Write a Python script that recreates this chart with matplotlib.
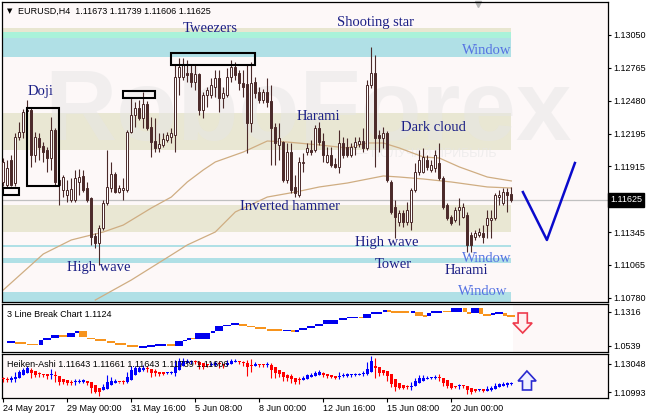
import numpy as np
import matplotlib
matplotlib.use("Agg")
import matplotlib.pyplot as plt
import matplotlib.transforms as mtransforms
from matplotlib.patches import Rectangle, Polygon

plt.rcParams['font.family'] = ['Liberation Sans', 'DejaVu Sans']

# EURUSD H4 candles
opens = [
    1.11780, 1.11754, 1.11970, 1.11771, 1.12169, 1.12212, 1.12393, 1.12402, 1.12013, 1.12160,
    1.12091, 1.12056, 1.11987, 1.12229, 1.11797, 1.11711, 1.11667, 1.11625, 1.11625, 1.11780,
    1.11832, 1.11728, 1.11642, 1.11313, 1.11253, 1.11383, 1.11598, 1.11728, 1.11849, 1.11693,
    1.11711, 1.11711, 1.12212, 1.12359, 1.12419, 1.12333, 1.12454, 1.12255, 1.12134, 1.12074,
    1.12100, 1.12143, 1.12169, 1.12186, 1.12687, 1.12687, 1.12722, 1.12722, 1.12644, 1.12713,
    1.12402, 1.12532, 1.12532, 1.12601, 1.12679, 1.12506, 1.12532, 1.12687, 1.12774, 1.12722,
    1.12635, 1.12627, 1.12290, 1.12644, 1.12558, 1.12488, 1.12558, 1.12480, 1.12255, 1.12100,
    1.12125, 1.11797, 1.12039, 1.11737, 1.11667, 1.11944, 1.12039, 1.12056, 1.12056, 1.12246,
    1.12134, 1.11953, 1.12013, 1.11935, 1.11910, 1.12117, 1.12082, 1.12013, 1.12082, 1.12108,
    1.12134, 1.12074, 1.12618, 1.12722, 1.12186, 1.12160, 1.12203, 1.11780, 1.11564, 1.11434,
    1.11512, 1.11434, 1.11434, 1.11711, 1.11867, 1.11867, 1.11970, 1.11884, 1.11901, 1.11944,
    1.11815, 1.11581, 1.11477, 1.11452, 1.11538, 1.11477, 1.11495, 1.11322, 1.11305, 1.11322,
    1.11339, 1.11408, 1.11452, 1.11469, 1.11650, 1.11598, 1.11693, 1.11673]
highs = [
    1.11987, 1.11970, 1.12013, 1.12203, 1.12298, 1.12411, 1.12488, 1.12419, 1.12212, 1.12203,
    1.12125, 1.12082, 1.12341, 1.12246, 1.11815, 1.11840, 1.11797, 1.11815, 1.11884, 1.11892,
    1.11884, 1.11780, 1.11650, 1.11339, 1.11408, 1.11625, 1.12056, 1.11953, 1.11867, 1.11754,
    1.11815, 1.12229, 1.12514, 1.12471, 1.12488, 1.12558, 1.12480, 1.12341, 1.12333, 1.12203,
    1.12203, 1.12212, 1.12246, 1.12791, 1.12851, 1.12851, 1.12834, 1.12791, 1.12791, 1.12722,
    1.12558, 1.12601, 1.12679, 1.12748, 1.12748, 1.12601, 1.12765, 1.12834, 1.12817, 1.12748,
    1.12748, 1.12791, 1.12817, 1.12687, 1.12601, 1.12583, 1.12679, 1.12618, 1.12290, 1.12290,
    1.12134, 1.12117, 1.12117, 1.11840, 1.11996, 1.12030, 1.12117, 1.12143, 1.12272, 1.12298,
    1.12203, 1.12082, 1.12082, 1.11987, 1.12229, 1.12169, 1.12160, 1.12117, 1.12169, 1.12169,
    1.12246, 1.12661, 1.12946, 1.12877, 1.12229, 1.12255, 1.12220, 1.11797, 1.11625, 1.11538,
    1.11538, 1.11607, 1.11728, 1.11944, 1.12056, 1.12074, 1.12013, 1.11970, 1.12056, 1.12117,
    1.11832, 1.11598, 1.11495, 1.11564, 1.11642, 1.11598, 1.11521, 1.11348, 1.11365, 1.11383,
    1.11408, 1.11538, 1.11538, 1.11685, 1.11711, 1.11728, 1.11728, 1.11739]
lows = [
    1.11745, 1.11737, 1.11745, 1.11745, 1.12143, 1.12160, 1.12376, 1.11910, 1.11953, 1.11970,
    1.11953, 1.11867, 1.11884, 1.11754, 1.11581, 1.11650, 1.11607, 1.11607, 1.11607, 1.11667,
    1.11693, 1.11607, 1.11236, 1.11210, 1.11063, 1.11365, 1.11581, 1.11693, 1.11685, 1.11685,
    1.11625, 1.11693, 1.12203, 1.12255, 1.12316, 1.12246, 1.12229, 1.11996, 1.12039, 1.12039,
    1.12082, 1.12125, 1.12117, 1.12039, 1.12532, 1.12661, 1.12644, 1.12601, 1.12575, 1.12359,
    1.12333, 1.12428, 1.12506, 1.12514, 1.12385, 1.12419, 1.12514, 1.12644, 1.12661, 1.12575,
    1.12514, 1.12030, 1.12212, 1.12506, 1.12462, 1.12462, 1.12428, 1.11927, 1.11927, 1.11970,
    1.11780, 1.11771, 1.11685, 1.11650, 1.11650, 1.11867, 1.12013, 1.12013, 1.12039, 1.12100,
    1.11953, 1.11944, 1.11910, 1.11901, 1.11858, 1.11987, 1.11996, 1.11996, 1.12013, 1.12082,
    1.12039, 1.12056, 1.12592, 1.11910, 1.12039, 1.12074, 1.11780, 1.11503, 1.11296, 1.11400,
    1.11391, 1.11408, 1.11365, 1.11693, 1.11840, 1.11858, 1.11884, 1.11867, 1.11867, 1.11797,
    1.11547, 1.11452, 1.11408, 1.11434, 1.11408, 1.11469, 1.11175, 1.11175, 1.11279, 1.11305,
    1.11253, 1.11296, 1.11296, 1.11452, 1.11581, 1.11581, 1.11521, 1.11606]
closes = [
    1.11953, 1.11901, 1.11754, 1.12169, 1.12212, 1.12385, 1.12402, 1.12013, 1.12169, 1.12082,
    1.12039, 1.11987, 1.12229, 1.11780, 1.11754, 1.11823, 1.11711, 1.11719, 1.11815, 1.11823,
    1.11711, 1.11625, 1.11305, 1.11253, 1.11383, 1.11598, 1.11737, 1.11849, 1.11693, 1.11728,
    1.11728, 1.12212, 1.12359, 1.12419, 1.12333, 1.12454, 1.12246, 1.12125, 1.12074, 1.12108,
    1.12151, 1.12186, 1.12203, 1.12687, 1.12774, 1.12791, 1.12704, 1.12644, 1.12713, 1.12402,
    1.12532, 1.12575, 1.12618, 1.12679, 1.12506, 1.12549, 1.12687, 1.12774, 1.12704, 1.12635,
    1.12601, 1.12290, 1.12635, 1.12549, 1.12488, 1.12558, 1.12471, 1.12246, 1.12117, 1.12160,
    1.11797, 1.12039, 1.11711, 1.11685, 1.11953, 1.11953, 1.12074, 1.12039, 1.12246, 1.12125,
    1.12013, 1.12013, 1.11927, 1.11910, 1.12117, 1.12013, 1.12013, 1.12082, 1.12125, 1.12134,
    1.12074, 1.12618, 1.12722, 1.12160, 1.12160, 1.12203, 1.11797, 1.11521, 1.11477, 1.11512,
    1.11434, 1.11538, 1.11711, 1.11867, 1.11970, 1.11996, 1.11910, 1.11927, 1.12013, 1.11815,
    1.11564, 1.11469, 1.11426, 1.11538, 1.11564, 1.11564, 1.11236, 1.11236, 1.11339, 1.11348,
    1.11305, 1.11469, 1.11469, 1.11667, 1.11667, 1.11693, 1.11667, 1.11625]

# moving averages (bar index, value)
ma_fast_idx = [0, 10, 17, 25, 30, 37, 42, 46, 50, 53, 60, 66, 71, 79, 86, 91, 95, 99, 105, 109, 114, 121, 127]
ma_fast = [1.10847, 1.11158, 1.11279, 1.11348, 1.11408, 1.11555, 1.11650, 1.11780, 1.11884, 1.11953,
           1.12039, 1.12134, 1.12125, 1.12100, 1.12074, 1.12117, 1.12117, 1.12074, 1.11996, 1.11987,
           1.11910, 1.11823, 1.11789]
ma_slow_idx = [23, 32, 42, 46, 53, 58, 66, 73, 79, 86, 95, 99, 105, 112, 121, 127]
ma_slow = [1.10760, 1.10933, 1.11149, 1.11236, 1.11348, 1.11521, 1.11650, 1.11693, 1.11737, 1.11771,
           1.11832, 1.11823, 1.11806, 1.11780, 1.11737, 1.11728]

# support / resistance zones (low, high, colour)
zones = [(1.13076, 1.13110, '#e8e6d0'), (1.13024, 1.13076, '#a9f2d9'), (1.12860, 1.13024, '#b0e0e6'),
         (1.12056, 1.12376, '#e9e7d3'), (1.11348, 1.11581, '#e9e7d3'), (1.11219, 1.11236, '#b0e0e6'),
         (1.11083, 1.11123, '#b0e0e6'), (1.10700, 1.10830, '#b0e0e6')]

# pattern boxes: first bar, last bar, low, high
boxes = [(-0.1, 3.9, 1.11667, 1.11728), (5.9, 13.9, 1.11745, 1.12419),
         (29.9, 37.9, 1.12506, 1.12566), (41.9, 62.9, 1.12791, 1.12894)]

labels = [("Doji", 6.2, 1.12558), ("Tweezers", 44.9, 1.13102), ("Shooting star", 83.4, 1.13154),
          ("Harami", 73.4, 1.12350), ("Dark cloud", 99.4, 1.12255), ("Inverted hammer", 59.2, 1.11564),
          ("High wave", 15.9, 1.11045), ("High wave", 87.9, 1.11253), ("Tower", 92.9, 1.11071),
          ("Harami", 110.4, 1.11011)]
windows = [(114.7, 1.12912), (114.7, 1.11123), (113.7, 1.10838)]

forecast_idx = [129.9, 135.9, 142.9]
forecast = [1.11693, 1.11279, 1.11944]

price_ticks = [1.13050, 1.12765, 1.12480, 1.12195, 1.11915, 1.11345, 1.11065, 1.10780]
last_price = 1.11625

# 3 line break bricks (start bar, close level)
lb_start = [1, 3, 6, 9, 10, 12, 14, 16, 18, 19, 21, 23, 26, 28, 31, 34, 36, 38, 41, 43, 45, 46, 47, 48,
            52, 53, 55, 57, 59, 61, 63, 66, 70, 72, 73, 74, 76, 78, 80, 84, 86, 89, 90, 92, 95, 96, 97,
            102, 103, 105, 106, 107, 110, 112, 115, 116, 117, 119, 120, 122, 123, 125, 126]
lb_close = [1.0701, 1.0668, 1.0641, 1.0738, 1.0766, 1.0808, 1.0782, 1.0847, 1.0884, 1.0775,
            1.0754, 1.0722, 1.0685, 1.0646, 1.0614, 1.0620, 1.0630, 1.0668, 1.0630, 1.0711,
            1.0738, 1.0766, 1.0754, 1.0847, 1.0884, 1.0953, 1.0981, 1.0992, 1.0965, 1.0937,
            1.0911, 1.0884, 1.0889, 1.0863, 1.0900, 1.0927, 1.0953, 1.0992, 1.1062, 1.1089,
            1.1115, 1.1099, 1.1154, 1.1196, 1.1224, 1.1208, 1.1170, 1.1187, 1.1131, 1.1127,
            1.1170, 1.1208, 1.1196, 1.1251, 1.1187, 1.1175, 1.1251, 1.1154, 1.1143, 1.1154,
            1.1170, 1.1131, 1.1127]

time_ticks = [0, 16, 32, 48, 64, 80, 96, 112]
time_labels = ["24 May 2017", "29 May 00:00", "31 May 16:00", "5 Jun 08:00",
               "8 Jun 00:00", "12 Jun 16:00", "15 Jun 08:00", "20 Jun 00:00"]

CANDLE = '#4b2a2a'
BG = '#fdf8f8'
NAVY = '#1b1f86'
FS = 6.5

W, H = 650, 419


def px_box(x0, y0, x1, y1):
    return [x0 / W, 1 - y1 / H, (x1 - x0) / W, (y1 - y0) / H]


fig = plt.figure(figsize=(6.5, 4.19), dpi=100)
fig.patch.set_facecolor('white')
ax = fig.add_axes(px_box(2, 2.3, 607.7, 302.3))
ax2 = fig.add_axes(px_box(2, 304.3, 607.7, 351.7))
ax3 = fig.add_axes(px_box(2, 354.3, 607.7, 397.7))

for a in (ax, ax2, ax3):
    a.set_facecolor(BG)
    a.set_xlim(-0.325, 151.1)
    a.yaxis.tick_right()
    a.tick_params(axis='y', length=2.5, width=0.8, pad=1.5, labelsize=FS, colors='black')
    for s in a.spines.values():
        s.set_linewidth(0.9)
        s.set_color('black')
ax.set_xticks([])
ax2.set_xticks([])

# ---- main price panel
ax.set_ylim(1.107405, 1.133325)
zone_end = 126.9
for lo, hi, col in zones:
    ax.add_patch(Rectangle((-0.325, lo), zone_end + 0.325, hi - lo, facecolor=col, lw=0, zorder=0.5))

ax.text(0.505, 0.541, 'RoboForex', transform=ax.transAxes, fontsize=72, fontweight='bold',
        color=(0.9, 0.9, 0.9), alpha=0.5, ha='center', va='baseline', zorder=0.8)
ax.text(0.583, 0.484, '— ПОЛУЧАЙ ПРИБЫЛЬ', transform=ax.transAxes, fontsize=9,
        color=(0.9, 0.9, 0.9), alpha=0.6, ha='left', va='baseline', zorder=0.8)

ax.axhline(last_price, color='#c0c0c0', lw=0.9, zorder=1)

ax.plot(ma_fast_idx, ma_fast, color='#cfad82', lw=0.9, zorder=2.5)
ax.plot(ma_slow_idx, ma_slow, color='#cfad82', lw=0.9, zorder=2.5)

o = np.array(opens)
h = np.array(highs)
l = np.array(lows)
c = np.array(closes)
idx = np.arange(len(o))
up = c >= o
body_lo = np.minimum(o, c)
body_h = np.maximum(np.abs(c - o), 0.00009)
ax.vlines(idx, l, h, color=CANDLE, lw=0.8, zorder=3)
ax.bar(idx[up], body_h[up], bottom=body_lo[up], width=0.55, facecolor='white',
       edgecolor=CANDLE, linewidth=0.7, zorder=4)
ax.bar(idx[~up], body_h[~up], bottom=body_lo[~up], width=0.55, facecolor=CANDLE,
       edgecolor=CANDLE, linewidth=0.7, zorder=4)

for x0, x1, lo, hi in boxes:
    ax.add_patch(Rectangle((x0, lo), x1 - x0, hi - lo, fill=False, edgecolor='black', lw=1.5, zorder=5))

serif = ['Liberation Serif', 'DejaVu Serif']
for txt, x, y in labels:
    ax.text(x, y, txt, family=serif, fontsize=10.5, color=NAVY, ha='left', va='center', zorder=6)
for x, y in windows:
    ax.text(x, y, 'Window', family=serif, fontsize=10.5, color='#5572e2', ha='left', va='center', zorder=6)

ax.plot(forecast_idx, forecast, color='#0a0acc', lw=1.8, zorder=6)

ax.set_yticks(price_ticks)
ax.set_yticklabels([f"{v:.5f}" for v in price_ticks])
trans = mtransforms.blended_transform_factory(ax.transAxes, ax.transData)
ax.text(1.004, last_price, f"{last_price:.5f}", transform=trans, color='white', fontsize=FS,
        ha='left', va='center', zorder=7, clip_on=False,
        bbox=dict(boxstyle='square,pad=0.25', fc='black', ec='black'))
ax.plot([0.786], [0.994], transform=ax.transAxes, marker='v', ms=5, color='#b4b4b4', clip_on=False)

fig.text(7 / W, 1 - 11 / H, '▼', fontsize=5, family=['DejaVu Sans'], ha='left', va='center')
fig.text(18 / W, 1 - 11 / H, 'EURUSD,H4  1.11673 1.11739 1.11606 1.11625', fontsize=FS,
         ha='left', va='center')

# ---- 3 line break panel
ax2.set_ylim(1.0539, 1.1316)
ax2.add_patch(Rectangle((-0.325, 1.0539), 127.7, 1.1316 - 1.0539, facecolor='white', lw=0, zorder=0.5))
ends = lb_start[1:] + [128]
prev = lb_close[0] - 0.001
for s, e, v in zip(lb_start, ends, lb_close):
    col = '#0000ee' if v >= prev else '#f7941d'
    lo, hi = min(prev, v), max(prev, v)
    if hi - lo < 0.0025:
        mid = v
        lo, hi = mid - 0.00125, mid + 0.00125
    ax2.add_patch(Rectangle((s, lo), (e - s) * 0.9, hi - lo, facecolor=col, lw=0, zorder=3))
    prev = v
ax2.set_yticks([1.11947, 1.06374])
ax2.set_yticklabels(['1.1316', '1.0539'])
ax2.text(0.008, 0.795, '3 Line Break Chart 1.1124', transform=ax2.transAxes, fontsize=FS,
         ha='left', va='center')
ax2.add_patch(Polygon([(128.7, 1.11734), (131.0, 1.11734), (131.0, 1.10095), (132.2, 1.10095),
                       (129.85, 1.08456), (127.4, 1.10095), (128.7, 1.10095)], closed=True,
                      facecolor='#fff0f0', edgecolor='#ee3a4c', lw=1.2, zorder=5, clip_on=False))

# ---- Heiken-Ashi panel
ha_close = (o + h + l + c) / 4
ha_open = np.empty_like(ha_close)
ha_open[0] = (o[0] + c[0]) / 2
for i in range(1, len(o)):
    ha_open[i] = (ha_open[i - 1] + ha_close[i - 1]) / 2
ha_high = np.maximum(h, np.maximum(ha_open, ha_close))
ha_low = np.minimum(l, np.minimum(ha_open, ha_close))
ha_up = ha_close >= ha_open
ha_cols = np.where(ha_up, '#0000ff', '#ff0000')
ax3.set_ylim(1.10993, 1.13048)
ax3.vlines(idx, ha_low, ha_high, colors=ha_cols, lw=0.8, zorder=3)
hb_lo = np.minimum(ha_open, ha_close)
hb_h = np.maximum(np.abs(ha_close - ha_open), 0.0006)
ax3.bar(idx, hb_h, bottom=hb_lo, width=0.75, color=ha_cols, lw=0, zorder=4)
ax3.set_yticks([1.12603, 1.11249])
ax3.set_yticklabels(['1.13048', '1.10993'])
ax3.text(0.008, 0.776, 'Heiken-Ashi 1.11643 1.11661 1.11643 1.11739 1.11606', transform=ax3.transAxes,
         fontsize=FS, ha='left', va='center', zorder=6)
ax3.add_patch(Polygon([(130.9, 1.12257), (133.2, 1.11784), (132.05, 1.11784), (132.05, 1.11358),
                       (129.8, 1.11358), (129.8, 1.11784), (128.7, 1.11784)], closed=True,
                      facecolor='#f0f0ff', edgecolor='#2a2ad0', lw=1.2, zorder=5, clip_on=False))

ax3.set_xticks(time_ticks)
ax3.set_xticklabels(time_labels, ha='left')
ax3.tick_params(axis='x', length=3, width=0.8, pad=1.5, labelsize=FS, colors='black')

fig.savefig('out.png', dpi=100, facecolor='white')
